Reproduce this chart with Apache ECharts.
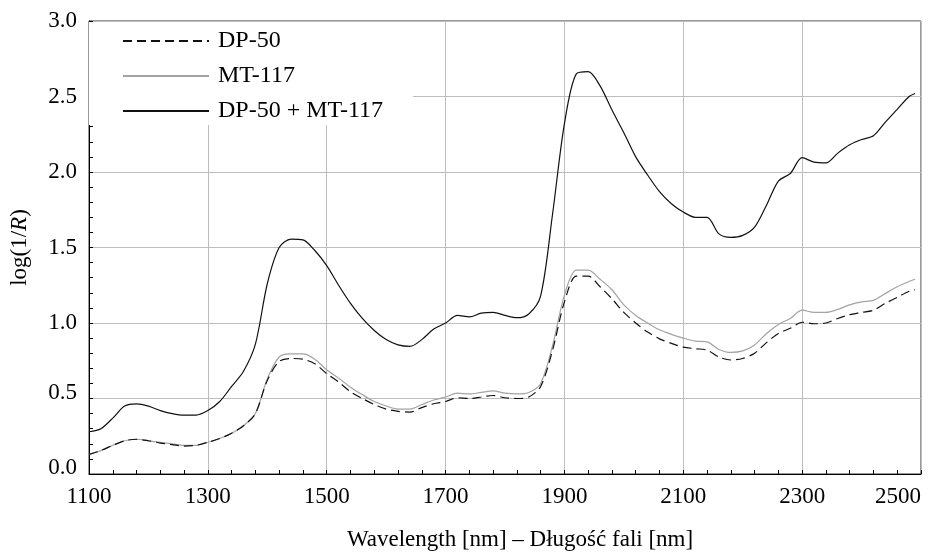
<!DOCTYPE html>
<html>
<head>
<meta charset="utf-8">
<script src="https://cdn.jsdelivr.net/npm/echarts@6.0.0/dist/echarts.min.js"></script>
<style>
  html, body { margin: 0; padding: 0; background: #fff; }
  #chart { width: 928px; height: 552px; }
</style>
</head>
<body>
<div id="chart"></div>
<script>
// wavelengths [nm]
const wavelengths = [
  1100, 1120, 1140, 1160, 1180, 1200, 1220, 1240, 1260, 1280,
  1300, 1320, 1340, 1360, 1380, 1400, 1420, 1440, 1460, 1480,
  1500, 1520, 1540, 1560, 1580, 1600, 1620, 1640, 1660, 1680,
  1700, 1720, 1740, 1760, 1780, 1800, 1820, 1840, 1860, 1880,
  1900, 1920, 1940, 1960, 1980, 2000, 2020, 2040, 2060, 2080,
  2100, 2120, 2140, 2160, 2180, 2200, 2220, 2240, 2260, 2280,
  2300, 2320, 2340, 2360, 2380, 2400, 2420, 2440, 2460, 2480, 2490
];

// log(1/R) - DP-50
const dp50 = [
  0.13, 0.155, 0.19, 0.22, 0.23, 0.22, 0.205, 0.195, 0.185, 0.19,
  0.21, 0.235, 0.27, 0.32, 0.40, 0.62, 0.745, 0.765, 0.76, 0.73,
  0.665, 0.61, 0.545, 0.50, 0.46, 0.43, 0.415, 0.41, 0.44, 0.465,
  0.48, 0.505, 0.50, 0.51, 0.52, 0.505, 0.50, 0.51, 0.58, 0.82,
  1.14, 1.31, 1.31, 1.24, 1.16, 1.07, 1.00, 0.94, 0.895, 0.865,
  0.84, 0.83, 0.82, 0.775, 0.755, 0.765, 0.80, 0.87, 0.93, 0.965,
  1.005, 0.995, 1.00, 1.03, 1.055, 1.07, 1.085, 1.13, 1.17, 1.21, 1.22
];

// log(1/R) - MT-117
const mt117 = [
  0.13, 0.155, 0.19, 0.22, 0.23, 0.22, 0.21, 0.20, 0.19, 0.19,
  0.21, 0.235, 0.27, 0.32, 0.40, 0.63, 0.775, 0.795, 0.795, 0.76,
  0.69, 0.635, 0.575, 0.525, 0.48, 0.45, 0.43, 0.43, 0.46, 0.49,
  0.51, 0.535, 0.53, 0.54, 0.55, 0.535, 0.53, 0.54, 0.60, 0.85,
  1.185, 1.35, 1.35, 1.29, 1.22, 1.12, 1.05, 1.00, 0.955, 0.925,
  0.90, 0.88, 0.875, 0.825, 0.805, 0.815, 0.855, 0.93, 0.99, 1.03,
  1.085, 1.07, 1.07, 1.09, 1.12, 1.14, 1.15, 1.195, 1.24, 1.275, 1.29
];

// log(1/R) - DP-50 + MT-117
const mix = [
  0.28, 0.30, 0.37, 0.45, 0.465, 0.45, 0.42, 0.40, 0.39, 0.39,
  0.42, 0.48, 0.58, 0.68, 0.86, 1.26, 1.50, 1.555, 1.55, 1.48,
  1.38, 1.25, 1.13, 1.03, 0.95, 0.89, 0.855, 0.845, 0.89, 0.96,
  1.00, 1.05, 1.04, 1.065, 1.07, 1.05, 1.035, 1.06, 1.18, 1.72,
  2.32, 2.65, 2.665, 2.57, 2.41, 2.26, 2.10, 1.98, 1.87, 1.79,
  1.735, 1.70, 1.70, 1.59, 1.567, 1.58, 1.635, 1.78, 1.94, 1.99,
  2.095, 2.065, 2.06, 2.125, 2.18, 2.215, 2.24, 2.33, 2.415, 2.50, 2.52
];

const seriesNames = ['DP-50', 'MT-117', 'DP-50 + MT-117'];

const FONT = 'Liberation Serif';
const FS = 23;

function pairs(ys) {
  return wavelengths.map((x, i) => [x, ys[i]]);
}

const chart = echarts.init(document.getElementById('chart'), null, { renderer: 'canvas' });

const option = {
  animation: false,
  backgroundColor: '#fff',
  textStyle: { fontFamily: FONT, color: '#000' },
  grid: {
    left: 89, right: 7, top: 21, bottom: 78,
    outerBoundsMode: 'none',
    show: true, borderColor: '#333', borderWidth: 1, backgroundColor: 'transparent'
  },
  legend: {
    orient: 'vertical',
    left: 89,
    top: 22,
    padding: [7, 30, 2, 33],
    backgroundColor: '#fff',
    itemWidth: 86,
    itemHeight: 14,
    itemGap: 11,
    data: seriesNames,
    // hide the symbol drawn in the middle of the line icon
    itemStyle: { color: 'transparent', borderColor: 'transparent', borderWidth: 0, opacity: 0 },
    textStyle: { fontFamily: FONT, fontSize: 24, lineHeight: 22, color: '#000', padding: [0, 0, 0, 4] }
  },
  xAxis: {
    type: 'value',
    min: 1100,
    max: 2500,
    interval: 200,
    name: 'Wavelength [nm] – Długość fali [nm]',
    nameLocation: 'middle',
    nameGap: 54,
    nameTextStyle: { fontFamily: FONT, fontSize: FS, color: '#000', padding: [0, 0, 0, 30] },
    axisLine: { lineStyle: { color: '#000', width: 1 } },
    axisTick: { inside: true, length: 4, lineStyle: { color: '#000' } },
    minorTick: { show: true, splitNumber: 5, length: 4, lineStyle: { color: '#000' } },
    axisLabel: {
      fontFamily: FONT, fontSize: FS, color: '#000', margin: 11, alignMaxLabel: 'right',
      formatter: (v) => String(v)
    },
    splitLine: { show: true, lineStyle: { color: '#bdbdbd', width: 1 } }
  },
  yAxis: {
    type: 'value',
    min: 0,
    max: 3,
    interval: 0.5,
    name: 'log(1/{i|R})',
    nameLocation: 'middle',
    nameRotate: 90,
    nameGap: 58,
    nameTextStyle: {
      fontFamily: FONT, fontSize: FS, color: '#000',
      rich: { i: { fontFamily: FONT, fontSize: FS, fontStyle: 'italic', color: '#000' } }
    },
    axisLine: { show: true, lineStyle: { color: '#000', width: 1 } },
    axisTick: { show: true, inside: true, length: 4, lineStyle: { color: '#000' } },
    minorTick: { show: true, splitNumber: 5, length: 4, lineStyle: { color: '#000' } },
    axisLabel: {
      fontFamily: FONT, fontSize: FS, color: '#000', margin: 12,
      // the two lowest labels sit a little above their tick, as in the original
      formatter: (v) => (v < 1 ? '{up|' : '{n|') + v.toFixed(1) + '}',
      rich: {
        up: { fontFamily: FONT, fontSize: FS, color: '#000', padding: [0, 0, 12, 0] },
        n: { fontFamily: FONT, fontSize: FS, color: '#000' }
      }
    },
    splitLine: { show: true, lineStyle: { color: '#bdbdbd', width: 1 } }
  },
  series: [
    {
      name: seriesNames[0],
      type: 'line',
      data: pairs(dp50),
      symbol: 'none',
      smooth: 0.3,
      lineStyle: { color: '#111', width: 1.2, type: [9, 5] },
      itemStyle: { color: '#111' },
      z: 3
    },
    {
      name: seriesNames[1],
      type: 'line',
      data: pairs(mt117),
      symbol: 'none',
      smooth: 0.3,
      lineStyle: { color: '#a3a3a3', width: 1.2 },
      itemStyle: { color: '#a3a3a3' },
      z: 2
    },
    {
      name: seriesNames[2],
      type: 'line',
      data: pairs(mix),
      symbol: 'none',
      smooth: 0.3,
      lineStyle: { color: '#111', width: 1.2 },
      itemStyle: { color: '#111' },
      z: 3
    }
  ]
};

chart.setOption(option);
</script>
</body>
</html>
